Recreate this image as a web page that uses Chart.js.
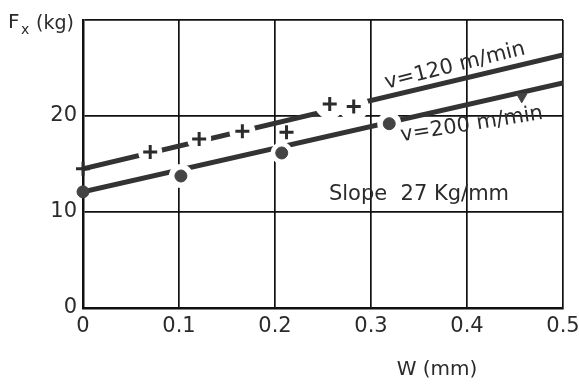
<!DOCTYPE html>
<html>
<head>
<meta charset="utf-8">
<script src="https://cdn.jsdelivr.net/npm/chart.js@4.4.1/dist/chart.umd.min.js"></script>
<style>
  html, body { margin: 0; padding: 0; background: #fff; }
  #wrap { width: 579px; height: 385px; }
</style>
</head>
<body>
<div id="wrap"><canvas id="forceChart" width="579" height="385"></canvas></div>
<script>
// Cutting force Fx against wear land W, two cutting speeds
const wCross = [0, 0.07, 0.121, 0.166, 0.212, 0.257, 0.282];
const fxCross = [14.5, 16.25, 17.6, 18.4, 18.3, 21.25, 21.0];
const wDot = [0, 0.102, 0.207, 0.319, 0.457];
const fxDot = [12.1, 13.75, 16.15, 19.2, 22.0];

// fitted lines, read at both ends
const wFit = [0, 0.5];
const fx120Fit = [14.5, 26.35];
const fx200Fit = [12.1, 23.45];

const xTickLabels = ['0', '0.1', '0.2', '0.3', '0.4', '0.5'];
const yTickLabels = ['0', '10', '20', ''];

const noteTexts = ['v=120 m/min', 'v=200 m/min', 'Slope  27 Kg/mm'];
const noteW = [0.3875, 0.405, 0.35];
const noteFx = [25.2, 19.1, 11.8];
const noteAngle = [-14, -9, 0];

// white gap cut out of the lines round each marker
const crossGap = [0, 12, 12, 13, 0, 15, 15];
const dotGap = [0, 12, 11, 12, 0];

const ink = '#2b2b2b';
const font = '"DejaVu Sans", sans-serif';
const pts = (xs, ys) => xs.map((x, i) => ({ x: x, y: ys[i] }));

// texts written on the plot
const notesPlugin = {
  id: 'notes',
  afterDraw(chart) {
    const c = chart.ctx;
    const xs = chart.scales.x, ys = chart.scales.y;
    c.save();
    c.fillStyle = ink;
    c.textAlign = 'center';
    c.textBaseline = 'middle';
    noteTexts.forEach((t, i) => {
      c.save();
      c.translate(xs.getPixelForValue(noteW[i]), ys.getPixelForValue(noteFx[i]));
      c.rotate(noteAngle[i] * Math.PI / 180);
      c.font = '21px ' + font;
      c.fillText(t, 0, 0);
      c.restore();
    });
    // axis titles
    c.textAlign = 'left';
    c.textBaseline = 'alphabetic';
    c.font = '20px ' + font;
    c.fillText('F', 8, 28);
    c.font = '14px ' + font;
    c.fillText('x', 21, 34);
    c.font = '19px ' + font;
    c.fillText('(kg)', 36, 29);
    c.textAlign = 'center';
    c.font = '20px ' + font;
    c.fillText('W (mm)', 437, 375);
    c.restore();
  }
};

const ctx = document.getElementById('forceChart').getContext('2d');
const forceChart = new Chart(ctx, {
  type: 'scatter',
  data: {
    datasets: [
      {
        label: 'v=120 fit',
        type: 'line',
        data: pts(wFit, fx120Fit),
        borderColor: '#333',
        borderWidth: 5,
        pointRadius: 0,
        order: 5
      },
      {
        label: 'v=200 fit',
        type: 'line',
        data: pts(wFit, fx200Fit),
        borderColor: '#333',
        borderWidth: 5,
        pointRadius: 0,
        order: 5
      },
      {
        label: 'gap +',
        data: pts(wCross, fxCross),
        pointStyle: 'circle',
        pointRadius: c => crossGap[c.dataIndex] || 0,
        pointBackgroundColor: '#fff',
        pointBorderWidth: 0,
        clip: false,
        order: 3
      },
      {
        label: 'gap o',
        data: pts(wDot, fxDot),
        pointStyle: 'circle',
        pointRadius: c => dotGap[c.dataIndex] || 0,
        pointBackgroundColor: '#fff',
        pointBorderWidth: 0,
        clip: false,
        order: 3
      },
      {
        label: 'v=120 m/min',
        data: pts(wCross, fxCross),
        pointStyle: 'cross',
        pointRadius: 7,
        pointBorderWidth: 3,
        pointBorderColor: ink,
        clip: false,
        order: 1
      },
      {
        label: 'v=200 m/min',
        data: pts(wDot, fxDot),
        pointStyle: c => c.dataIndex === wDot.length - 1 ? 'triangle' : 'circle',
        rotation: c => c.dataIndex === wDot.length - 1 ? 180 : 0,
        pointRadius: 6,
        pointBackgroundColor: '#444',
        pointBorderColor: '#444',
        pointBorderWidth: 1,
        clip: false,
        order: 1
      }
    ]
  },
  options: {
    responsive: false,
    animation: false,
    devicePixelRatio: 1,
    layout: { padding: { top: 20, right: 0, left: 0, bottom: 0 } },
    plugins: {
      legend: { display: false },
      tooltip: { enabled: false }
    },
    scales: {
      x: {
        type: 'linear',
        min: 0,
        max: 0.5,
        afterFit: s => { s.height = 77; s.paddingLeft = 0; s.paddingRight = 16; },
        ticks: {
          stepSize: 0.1,
          padding: 6,
          color: ink,
          font: { family: font, size: 21 },
          callback: v => xTickLabels[Math.round(v * 10)]
        },
        grid: { color: '#111', lineWidth: 1.7, drawTicks: false },
        border: { color: '#111', width: 2.5 }
      },
      y: {
        min: 0,
        max: 30,
        afterFit: s => { s.width = 83; },
        ticks: {
          stepSize: 10,
          padding: 6,
          color: ink,
          font: { family: font, size: 21 },
          callback: v => yTickLabels[Math.round(v / 10)]
        },
        grid: { color: '#111', lineWidth: 1.7, drawTicks: false },
        border: { color: '#111', width: 2.5 }
      }
    }
  },
  plugins: [notesPlugin]
});
</script>
</body>
</html>
